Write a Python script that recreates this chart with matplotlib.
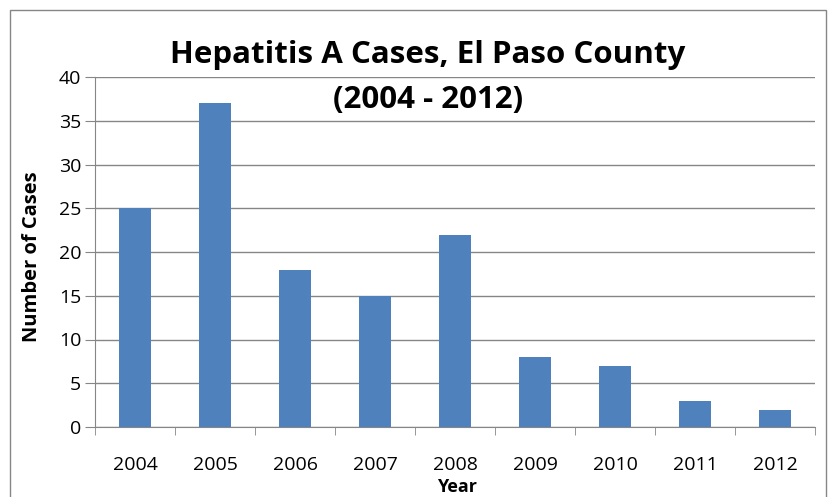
import matplotlib.pyplot as plt
from matplotlib.patches import Rectangle

# data
years = ['2004', '2005', '2006', '2007', '2008', '2009', '2010', '2011', '2012']
cases = [25, 37, 18, 15, 22, 8, 7, 3, 2]

plt.rcParams['font.family'] = ['Open Sans', 'DejaVu Sans']

fig = plt.figure(figsize=(8.3, 4.97), dpi=100)
ax = fig.add_axes([95 / 830, 1 - 427 / 497, 720 / 830, 350 / 497])

x = range(len(years))
ax.bar(x, cases, width=0.4, color='#4F81BD', zorder=3)

ax.set_xlim(-0.5, len(years) - 0.5)
ax.set_ylim(0, 40)
ax.set_yticks(range(0, 41, 5))
ax.set_xticks(list(x))
ax.set_xticklabels(years)
ax.set_xticks([i - 0.5 for i in range(len(years) + 1)], minor=True)

ax.grid(axis='y', color='#868686', linewidth=1, zorder=0)
for s in ['top', 'right']:
    ax.spines[s].set_visible(False)
ax.spines['left'].set_color('#868686')
ax.spines['bottom'].set_color('#868686')

ax.tick_params(axis='y', length=7, color='#868686', labelsize=14, pad=3)
ax.tick_params(axis='x', which='major', length=0, labelsize=14, pad=21)
ax.tick_params(axis='x', which='minor', length=6, color='#868686')

fig.text(32 / 830, 1 - 257 / 497, 'Number of Cases', rotation=90, ha='center', va='center',
         fontsize=14.5, fontweight='bold')
fig.text(457 / 830, 1 - 487 / 497, 'Year', ha='center', va='center', fontsize=13, fontweight='bold')

fig.text(428 / 830, 1 - 55 / 497, 'Hepatitis A Cases, El Paso County', ha='center', va='center',
         fontsize=22.5, fontweight='bold')
fig.text(428 / 830, 1 - 100 / 497, '(2004 - 2012)', ha='center', va='center',
         fontsize=22.5, fontweight='bold')

fig.patches.append(Rectangle((10 / 830, -0.1), 816 / 830, 1 - 10 / 497 + 0.1,
                             transform=fig.transFigure, fill=False, edgecolor='#868686',
                             linewidth=1))

fig.savefig('out.png', dpi=100)
